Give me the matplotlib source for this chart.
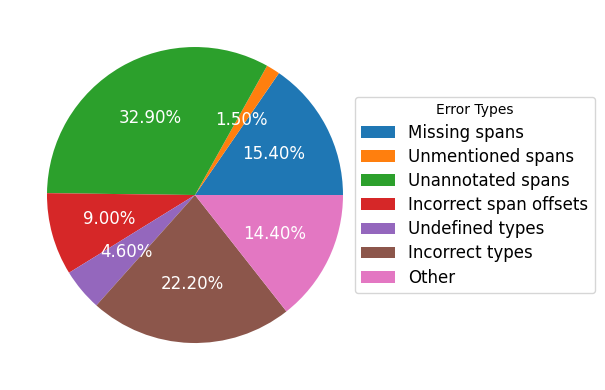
import matplotlib
matplotlib.use("Agg")
import matplotlib.pyplot as plt

error_types = ['Missing spans', 'Unmentioned spans', 'Unannotated spans',
               'Incorrect span offsets', 'Undefined types', 'Incorrect types', 'Other']
shares = [15.4, 1.5, 32.9, 9.0, 4.6, 22.2, 14.4]

fig = plt.figure(figsize=(6.05, 3.9), dpi=100)
ax = fig.add_axes([0.0165, 0.0256, 0.6116, 0.9487])

wedges, texts, autotexts = ax.pie(shares, autopct='%1.2f%%',
                                  textprops={'color': 'white', 'fontsize': 12})
ax.set_aspect('equal')

fig.legend(wedges, error_types, title='Error Types', loc='center left',
           bbox_to_anchor=(0.5727, 0.5), fontsize=12, title_fontsize=10,
           labelspacing=0.37)

fig.savefig('out.png', dpi=100)
